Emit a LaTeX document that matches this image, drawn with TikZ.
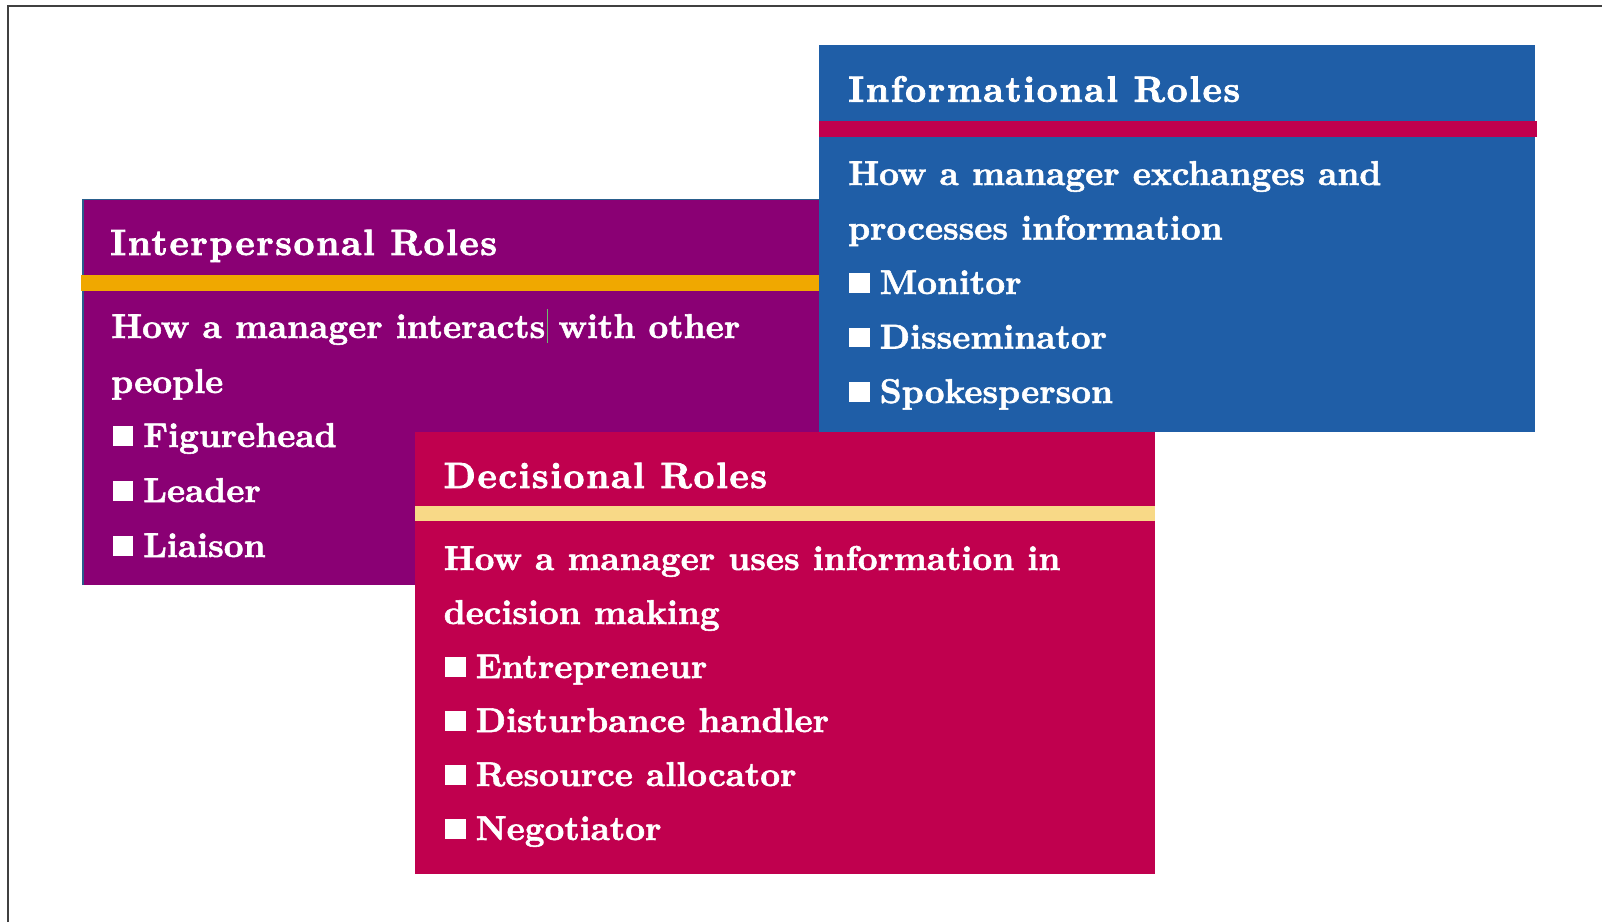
\documentclass[tikz,border=0pt]{standalone}
\usepackage{fontspec}
\newfontfamily\bodyfnt{lmroman10-bold.otf}[FakeBold=1.6]
\newfontfamily\titlefnt{lmroman10-bold.otf}[LetterSpace=4.5,FakeBold=2.2]
\definecolor{purp}{HTML}{8A0074}
\definecolor{blu}{HTML}{1F5EA7}
\definecolor{crim}{HTML}{C0004E}
\definecolor{orng}{HTML}{F0A800}
\definecolor{lyel}{HTML}{F8D987}
\definecolor{frm}{HTML}{404040}
\definecolor{edge}{HTML}{2A5E8C}
\definecolor{cursorgreen}{HTML}{6DBE6D}
\newcommand\bsq{\rule[1.5pt]{20.5pt}{19.5pt}\hspace{10pt}}
\newcommand\caretmark{\rlap{\hspace{1.5pt}\textcolor{cursorgreen}{\rule[-5pt]{1.5pt}{34pt}}}}
\tikzset{
  txt/.style={anchor=base west, inner sep=0pt, text=white,
    font=\bodyfnt\fontsize{34.4}{40}\selectfont},
  ttl/.style={anchor=base west, inner sep=0pt, text=white,
    font=\titlefnt\fontsize{36.5}{40}\selectfont},
  frameline/.style={draw=frm, line width=2.5pt},
}
\begin{document}
\begin{tikzpicture}[x=1pt,y=-1pt]
\useasboundingbox (0,0) rectangle (1602,922);
% frame
\draw[frameline] (8,922) -- (8,6) -- (1602,6);
% Interpersonal
\fill[purp] (83,199.5) rectangle (823,585);
\draw[edge, line width=1.2pt] (83,585) -- (83,199.5) -- (823,199.5);
\fill[orng] (81,275) rectangle (823,291);
\node[ttl] (pt) at (110,255) {Interpersonal Roles};
\node[txt] (p1) at (111,338) {How a manager interacts\caretmark{} with other};
\node[txt] (p2) at (111,393) {people};
\node[txt] (p3) at (112.5,447) {\bsq Figurehead};
\node[txt] (p4) at (112.5,502) {\bsq Leader};
\node[txt] (p5) at (112.5,557) {\bsq Liaison};
% Informational
\fill[blu] (819,45) rectangle (1535,432);
\fill[crim] (819,121) rectangle (1537,137);
\node[ttl] (it) at (848,101.7) {Informational Roles};
\node[txt] (i1) at (848,185) {How a manager exchanges and};
\node[txt] (i2) at (848,239.5) {processes information};
\node[txt] (i3) at (849,294) {\bsq Monitor};
\node[txt] (i4) at (849,348.5) {\bsq Disseminator};
\node[txt] (i5) at (849,403) {\bsq Spokesperson};
% Decisional
\fill[crim] (415,431.5) rectangle (1155,874);
\fill[lyel] (415,505.5) rectangle (1155,521);
\node[ttl] (dt) at (443.5,488) {Decisional Roles};
\node[txt] (d1) at (443.5,570) {How a manager uses information in};
\node[txt] (d2) at (443.5,624) {decision making};
\node[txt] (d3) at (445,678) {\bsq Entrepreneur};
\node[txt] (d4) at (445,732) {\bsq Disturbance handler};
\node[txt] (d5) at (445,786) {\bsq Resource allocator};
\node[txt] (d6) at (445,840) {\bsq Negotiator};
\end{tikzpicture}
\end{document}
